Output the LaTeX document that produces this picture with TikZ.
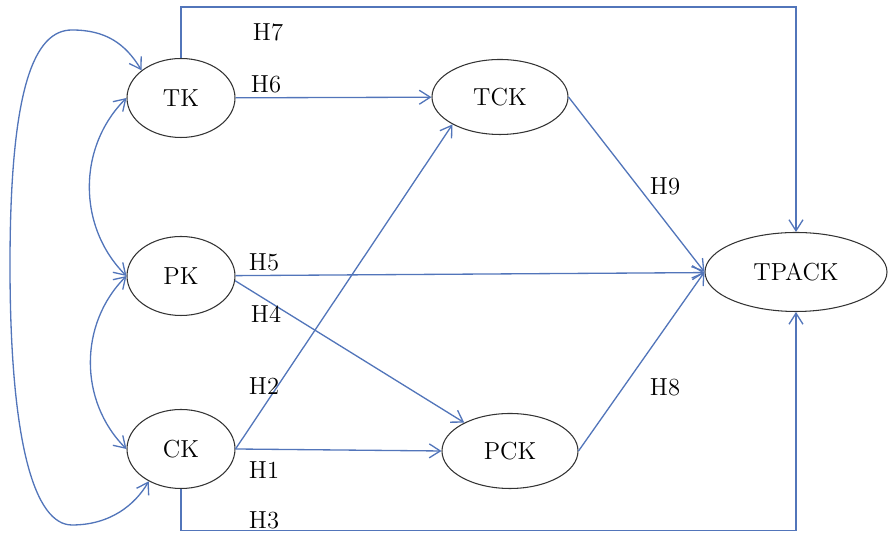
\documentclass[tikz,border=0pt]{standalone}
\usepackage{tikz}
\usetikzlibrary{shapes.geometric, arrows.meta}

\definecolor{linkblue}{RGB}{82,117,186}

\begin{document}
\begin{tikzpicture}[x=0.2mm, y=0.2mm, font=\fontsize{14}{16}\selectfont,
  >={Straight Barb[length=2.2mm, width=2.8mm]},
  know/.style={ellipse, draw=black!80, line width=0.6pt, inner sep=0pt,
    minimum width=21.6mm, minimum height=15.8mm},
  link/.style={linkblue, line width=0.75pt}]
\useasboundingbox (0,0) rectangle (888,535);

% Conocimientos base
\node[know] (TK) at (181,437) {TK};
\node[know] (PK) at (181,259) {PK};
\node[know] (CK) at (181,86) {CK};

% Conocimientos combinados
\node[know, minimum width=27.2mm, minimum height=15mm] (TCK) at (500,438) {TCK};
\node[know, minimum width=27.2mm, minimum height=15mm] (PCK) at (510,84) {PCK};
\node[know, minimum width=36.4mm] (TPACK) at (796,263) {TPACK};

% Correlaciones
\draw[link, <->] (TK.west) to[bend right=45] (PK.west);
\draw[link, <->] (PK.west) to[bend right=45] (CK.west);
\draw[link, <->] (TK.145) .. controls (125,492) and (105,505) .. (72,505)
  .. controls (35,505) and (10,450) .. (10,270)
  .. controls (10,90) and (35,10) .. (72,10)
  .. controls (110,10) and (135,30) .. (CK.225);

% Hipotesis
\draw[link, ->] (TK) -- (TCK);
\draw[link, ->] (PK) -- (TPACK);
\draw[link, ->] (PK.-5) -- (PCK);
\draw[link, ->] (CK.east) -- (TCK.210);
\draw[link, ->] (CK.east) -- (PCK.west);
\draw[link, ->] (TCK.east) -- (TPACK.west);
\draw[link, ->] (PCK.east) -- (TPACK.west);
\draw[link, ->] (TK.north) -- ++(0,51) -| (TPACK.north);
\draw[link, ->] (CK.south) -- ++(0,-41.5) -| (TPACK.south);

% Etiquetas
\node (h7) at (268,503) {H7};
\node (h6) at (266,451) {H6};
\node (h5) at (264,273) {H5};
\node (h4) at (266,221) {H4};
\node (h2) at (264,149) {H2};
\node (h1) at (264,65) {H1};
\node (h3) at (264,15) {H3};
\node (h9) at (665,349) {H9};
\node (h8) at (665,148) {H8};
\end{tikzpicture}
\end{document}
